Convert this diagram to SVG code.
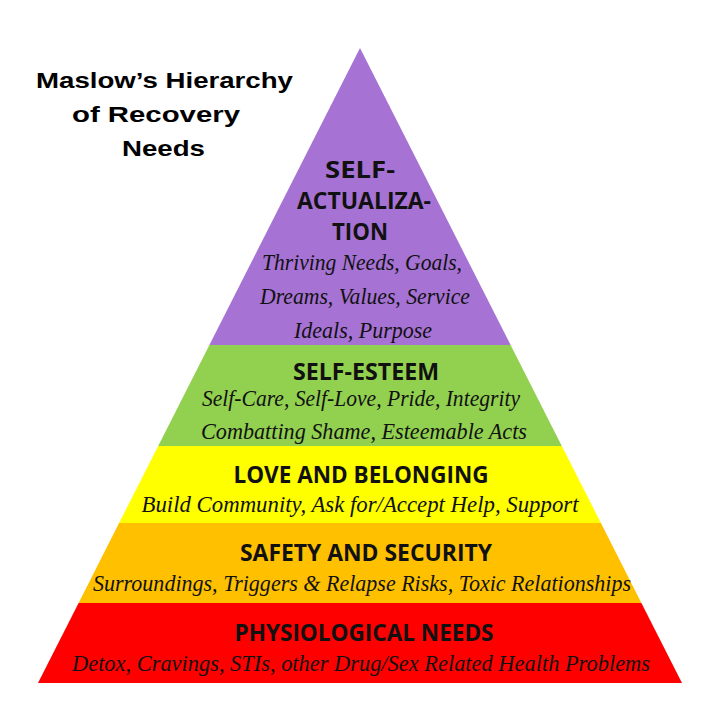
<svg xmlns="http://www.w3.org/2000/svg" width="720" height="721" viewBox="0 0 720 721">
<style>
.h{font-family:"Open Sans","Lato","Liberation Sans",sans-serif;font-weight:700;font-size:23px;fill:#111;text-anchor:middle}
.b{font-family:"Liberation Serif","DejaVu Serif",serif;font-style:italic;font-size:23.5px;fill:#111;text-anchor:middle}
.t{font-family:"Liberation Sans",Arial,sans-serif;font-weight:700;font-size:22.5px;fill:#000}
</style>
<rect width="720" height="721" fill="#fff"/>
<g id="title">
<text class="t" x="36" y="88" textLength="257" lengthAdjust="spacingAndGlyphs">Maslow’s Hierarchy</text>
<text class="t" x="72" y="122" textLength="168" lengthAdjust="spacingAndGlyphs">of Recovery</text>
<text class="t" x="122" y="156" textLength="83" lengthAdjust="spacingAndGlyphs">Needs</text>
</g>
<g id="self-actualization">
<polygon points="360,48 510.6,345 209.4,345" fill="#a672d4"/>
<text class="h" x="360" y="178" textLength="70" lengthAdjust="spacingAndGlyphs">SELF-</text>
<text class="h" x="364" y="209" textLength="134" lengthAdjust="spacingAndGlyphs">ACTUALIZA-</text>
<text class="h" x="360" y="240" textLength="56" lengthAdjust="spacingAndGlyphs">TION</text>
<text class="b" x="362" y="270" textLength="200" lengthAdjust="spacingAndGlyphs">Thriving Needs, Goals,</text>
<text class="b" x="365" y="304" textLength="210" lengthAdjust="spacingAndGlyphs">Dreams, Values, Service</text>
<text class="b" x="363" y="338" textLength="138" lengthAdjust="spacingAndGlyphs">Ideals, Purpose</text>
</g>
<g id="self-esteem">
<polygon points="209.4,345 510.6,345 561.8,446 158.2,446" fill="#92d050"/>
<text class="h" x="366" y="380" textLength="146" lengthAdjust="spacingAndGlyphs">SELF-ESTEEM</text>
<text class="b" x="361" y="406" textLength="318" lengthAdjust="spacingAndGlyphs">Self-Care, Self-Love, Pride, Integrity</text>
<text class="b" x="364" y="439" textLength="326" lengthAdjust="spacingAndGlyphs">Combatting Shame, Esteemable Acts</text>
</g>
<g id="love-belonging">
<polygon points="158.2,446 561.8,446 600.9,523 119.1,523" fill="#ffff00"/>
<text class="h" x="361" y="483" textLength="255" lengthAdjust="spacingAndGlyphs">LOVE AND BELONGING</text>
<text class="b" x="360" y="512" textLength="437" lengthAdjust="spacingAndGlyphs">Build Community, Ask for/Accept Help, Support</text>
</g>
<g id="safety-security">
<polygon points="119.1,523 600.9,523 641.4,603 78.6,603" fill="#ffc000"/>
<text class="h" x="366" y="561" textLength="252" lengthAdjust="spacingAndGlyphs">SAFETY AND SECURITY</text>
<text class="b" x="362" y="591" textLength="538" lengthAdjust="spacingAndGlyphs">Surroundings, Triggers &amp; Relapse Risks, Toxic Relationships</text>
</g>
<g id="physiological">
<polygon points="78.6,603 641.4,603 682,683 38,683" fill="#ff0000"/>
<text class="h" x="364" y="641" textLength="259" lengthAdjust="spacingAndGlyphs" fill="#1a0000">PHYSIOLOGICAL NEEDS</text>
<text class="b" x="361" y="671" textLength="578" lengthAdjust="spacingAndGlyphs" fill="#1a0000">Detox, Cravings, STIs, other Drug/Sex Related Health Problems</text>
</g>
<g id="connectors"/>
</svg>
